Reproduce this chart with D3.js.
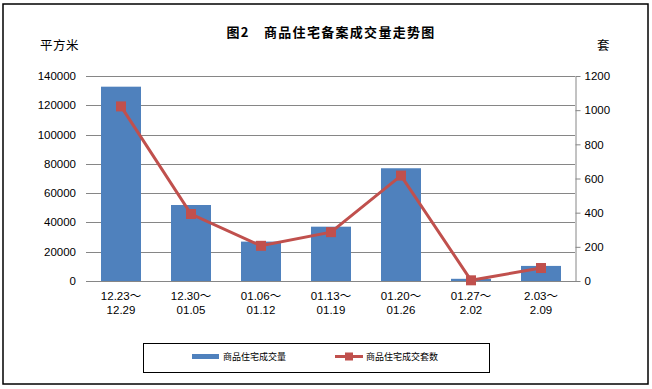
<!DOCTYPE html>
<html><head><meta charset="utf-8">
<script src="https://cdn.jsdelivr.net/npm/d3@7/dist/d3.min.js"></script>
<style>body{margin:0;background:#fff}svg{display:block}</style>
</head><body>
<script>
const categories = [["12.23～","12.29"],["12.30～","01.05"],["01.06～","01.12"],["01.13～","01.19"],["01.20～","01.26"],["01.27～","2.02"],["2.03～","2.09"]];
const areaValues = [132700, 51900, 26900, 37100, 77000, 1500, 10300];
const unitValues = [1022, 392, 206, 286, 617, 4, 76];
const leftTicks = [0,20000,40000,60000,80000,100000,120000,140000];
const rightTicks = [0,200,400,600,800,1000,1200];
const seriesNames = ["商品住宅成交量","商品住宅成交套数"];
const title = "图2　商品住宅备案成交量走势图";

const W=652,H=389;
const svg=d3.select("body").append("svg").attr("width",W).attr("height",H);
const font="'Liberation Sans', 'Noto Sans CJK SC', sans-serif";
const cjk="'Noto Sans CJK SC', sans-serif";
svg.append("rect").attr("x",3).attr("y",4).attr("width",645).attr("height",380).attr("fill","#fff").attr("stroke","#000").attr("stroke-width",1.5);

const L=86,R=576,T=76,B=281;
const x=d3.scaleBand().domain(d3.range(categories.length)).range([L,R]).paddingInner(0.4286).paddingOuter(0.2143);
const yL=d3.scaleLinear().domain([0,140000]).range([B,T]);
const yR=d3.scaleLinear().domain([0,1200]).range([B,T]);

// gridlines
svg.append("g").selectAll("line").data(leftTicks).join("line")
 .attr("x1",L).attr("x2",R-1).attr("y1",d=>Math.round(yL(d))+0.5).attr("y2",d=>Math.round(yL(d))+0.5)
 .attr("stroke","#868686").attr("stroke-width",1);
// left labels
svg.append("g").selectAll("text").data(leftTicks).join("text")
 .attr("x",76).attr("y",d=>yL(d)).attr("dy","0.35em").attr("text-anchor","end")
 .attr("font-family",font).attr("font-size",11.5).attr("fill","#000").text(d=>d);
// right axis
const rAxis=d3.axisRight(yR).tickValues(rightTicks).tickFormat(d3.format("d")).tickSize(5).tickPadding(4).tickSizeOuter(0);
const ra=svg.append("g").attr("transform",`translate(${R-0.5},0)`).call(rAxis);
ra.select(".domain").attr("stroke","#868686");
ra.selectAll(".tick line").attr("stroke","#868686");
ra.selectAll(".tick text").attr("font-family",font).attr("font-size",11.5).attr("fill","#000");

// bars
svg.append("g").selectAll("rect").data(areaValues).join("rect")
 .attr("x",(d,i)=>x(i)).attr("width",x.bandwidth()).attr("y",d=>yL(d)).attr("height",d=>B-yL(d)).attr("fill","#4F81BD");
// bottom axis line
svg.append("line").attr("x1",L).attr("x2",R).attr("y1",B+0.5).attr("y2",B+0.5).attr("stroke","#868686");

// line
const cx=i=>x(i)+x.bandwidth()/2;
svg.append("path").datum(unitValues).attr("fill","none").attr("stroke","#C0504D").attr("stroke-width",3)
 .attr("d",d3.line().x((d,i)=>cx(i)).y(d=>yR(d)));
svg.append("g").selectAll("rect").data(unitValues).join("rect")
 .attr("x",(d,i)=>cx(i)-5).attr("y",d=>yR(d)-5).attr("width",10).attr("height",10).attr("fill","#C0504D");

// x labels
const xl=svg.append("g").selectAll("text").data(categories).join("text")
 .attr("text-anchor","middle").attr("font-family",font).attr("font-size",11.5).attr("fill","#000");
xl.append("tspan").attr("x",(d,i)=>cx(i)).attr("y",300).text(d=>d[0]);
xl.append("tspan").attr("x",(d,i)=>cx(i)).attr("y",314).text(d=>d[1]);

// title & units
svg.append("text").attr("x",331).attr("y",37).attr("text-anchor","middle").attr("font-family",cjk).attr("font-weight","bold").attr("font-size",13).attr("letter-spacing",1.3).text(title);
svg.append("text").attr("x",40).attr("y",50).attr("font-family",cjk).attr("font-size",12.5).attr("letter-spacing",0.5).text("平方米");
svg.append("text").attr("x",597).attr("y",50).attr("font-family",cjk).attr("font-size",12.5).text("套");

// legend
const lg=svg.append("g");
lg.append("rect").attr("x",143.5).attr("y",343.5).attr("width",346).attr("height",29).attr("fill","#fff").attr("stroke","#000").attr("stroke-width",1);
lg.append("rect").attr("x",192).attr("y",354).attr("width",27).attr("height",5).attr("fill","#4F81BD");
lg.append("text").attr("x",223).attr("y",360).attr("font-family",cjk).attr("font-size",9).text(seriesNames[0]);
lg.append("line").attr("x1",335).attr("x2",363).attr("y1",356.5).attr("y2",356.5).attr("stroke","#C0504D").attr("stroke-width",3);
lg.append("rect").attr("x",345).attr("y",352.5).attr("width",8).attr("height",8).attr("fill","#C0504D");
lg.append("text").attr("x",366).attr("y",360).attr("font-family",cjk).attr("font-size",9).text(seriesNames[1]);
</script>
</body></html>
